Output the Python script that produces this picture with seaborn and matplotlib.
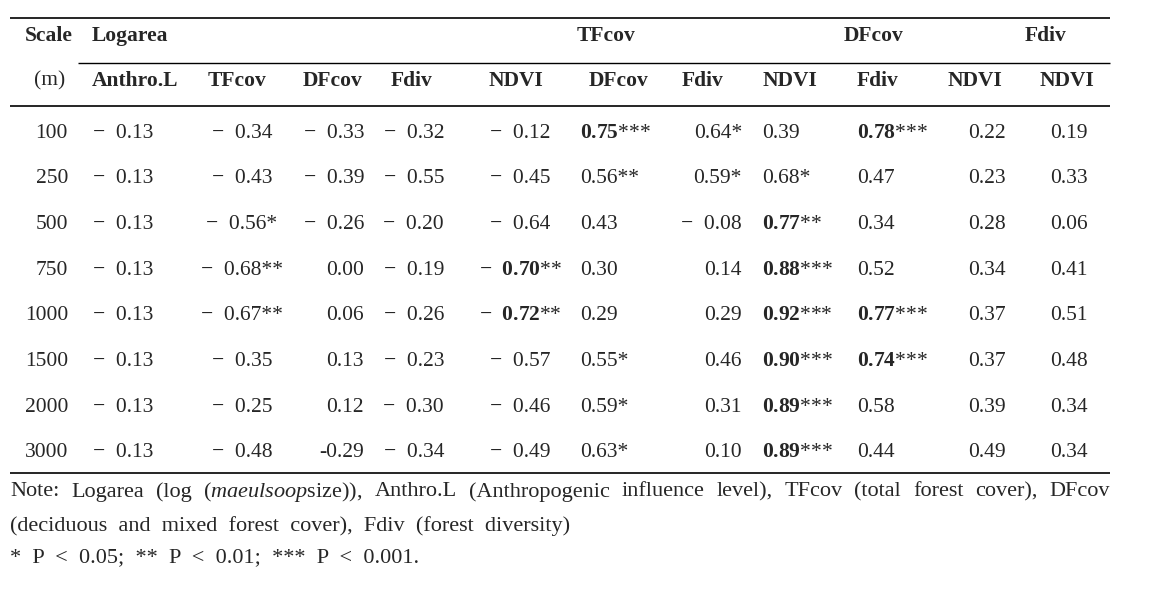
import matplotlib
matplotlib.use("Agg")
import matplotlib.pyplot as plt
import seaborn as sns

# table values (correlations with significance stars)
scales = ["100", "250", "500", "750", "1000", "1500", "2000", "3000"]

group_headers = ["Logarea", "TFcov", "DFcov", "Fdiv"]
sub_headers = ["Anthro.L", "TFcov", "DFcov", "Fdiv", "NDVI",
               "DFcov", "Fdiv", "NDVI", "Fdiv", "NDVI", "NDVI"]

logarea_anthro = ["− 0.13", "− 0.13", "− 0.13", "− 0.13", "− 0.13", "− 0.13", "− 0.13", "− 0.13"]
logarea_tfcov = ["− 0.34", "− 0.43", "− 0.56*", "− 0.68**", "− 0.67**", "− 0.35", "− 0.25", "− 0.48"]
logarea_dfcov = ["− 0.33", "− 0.39", "− 0.26", "0.00", "0.06", "0.13", "0.12", "-0.29"]
logarea_fdiv = ["− 0.32", "− 0.55", "− 0.20", "− 0.19", "− 0.26", "− 0.23", "− 0.30", "− 0.34"]
logarea_ndvi = ["− 0.12", "− 0.45", "− 0.64", "− 0.70**", "− 0.72**", "− 0.57", "− 0.46", "− 0.49"]
tfcov_dfcov = ["0.75***", "0.56**", "0.43", "0.30", "0.29", "0.55*", "0.59*", "0.63*"]
tfcov_fdiv = ["0.64*", "0.59*", "− 0.08", "0.14", "0.29", "0.46", "0.31", "0.10"]
tfcov_ndvi = ["0.39", "0.68*", "0.77**", "0.88***", "0.92***", "0.90***", "0.89***", "0.89***"]
dfcov_fdiv = ["0.78***", "0.47", "0.34", "0.52", "0.77***", "0.74***", "0.58", "0.44"]
dfcov_ndvi = ["0.22", "0.23", "0.28", "0.34", "0.37", "0.37", "0.39", "0.49"]
fdiv_ndvi = ["0.19", "0.33", "0.06", "0.41", "0.51", "0.48", "0.34", "0.34"]

columns = [logarea_anthro, logarea_tfcov, logarea_dfcov, logarea_fdiv, logarea_ndvi,
           tfcov_dfcov, tfcov_fdiv, tfcov_ndvi, dfcov_fdiv, dfcov_ndvi, fdiv_ndvi]

note_line1 = ("Note: Logarea (log ($\\mathit{maeulsoop}$size)), Anthro.L (Anthropogenic "
              "influence level), TFcov (total forest cover), DFcov")
note_line2 = "(deciduous  and  mixed  forest  cover),  Fdiv  (forest  diversity)"
note_line3 = "*  P  <  0.05;  **  P  <  0.01;  ***  P  <  0.001."

# layout (pixel units)
W, H = 1153, 595
FS = 15.5
NOTE_FS = 16
group_x = [92, 577, 844, 1025]
sub_x = [92, 237, 333, 412, 516, 619, 703, 790, 878, 975, 1067]
sub_ha = ["left"] + ["center"] * 10
cell_pos = [(93, "left"), (242, "center"), (364, "right"), (444, "right"), (520, "center"),
            (580, "left"), (742, "right"), (762, "left"), (857, "left"), (987, "center"),
            (1069, "center")]
row_y0, row_dy = 133, 45.7


def cell_text(s):
    stars = s.count("*")
    core = s.rstrip("*")
    value = float(core.replace("− ", "-"))
    sign = ""
    if core.startswith("− "):
        sign, core = "−  ", core[2:]
    if abs(value) >= 0.70:
        core = "$\\mathbf{" + core + "}$"
    return sign + core + "*" * stars


def place_justified(ax, text, x0, x1, y, **kw):
    renderer = ax.figure.canvas.get_renderer()
    words = text.split(" ")
    texts = [ax.text(0, y, w, ha="left", va="center", **kw) for w in words]
    widths = [t.get_window_extent(renderer).width for t in texts]
    gap = (x1 - x0 - sum(widths)) / (len(words) - 1)
    x = x0
    for t, w in zip(texts, widths):
        t.set_x(x)
        x += w + gap


sns.set_theme(style="white")
plt.rcParams["font.family"] = ["Liberation Serif", "DejaVu Serif"]
plt.rcParams["mathtext.fontset"] = "custom"
plt.rcParams["mathtext.rm"] = "Liberation Serif"
plt.rcParams["mathtext.it"] = "Liberation Serif:italic"
plt.rcParams["mathtext.bf"] = "Liberation Serif:bold"

fig = plt.figure(figsize=(W / 100, H / 100), dpi=100)
ax = fig.add_axes([0, 0, 1, 1])
ax.set_xlim(0, W)
ax.set_ylim(H, 0)
ax.axis("off")

# rules
ax.hlines([18, 106, 473], 10, 1110, color="black", linewidth=1.2)
ax.hlines(63, 78, 1110, color="black", linewidth=1.0)

# headers
ax.text(25, 36, "Scale", ha="left", va="center", fontsize=FS, fontweight="bold")
ax.text(50, 81, "(m)", ha="center", va="center", fontsize=FS)
for name, x in zip(group_headers, group_x):
    ax.text(x, 36, name, ha="left", va="center", fontsize=FS, fontweight="bold")
for name, x, ha in zip(sub_headers, sub_x, sub_ha):
    ax.text(x, 81, name, ha=ha, va="center", fontsize=FS, fontweight="bold")

# body
for i, s in enumerate(scales):
    y = row_y0 + i * row_dy
    ax.text(68, y, s, ha="right", va="center", fontsize=FS)
    for col, (x, ha) in zip(columns, cell_pos):
        ax.text(x, y, cell_text(col[i]), ha=ha, va="center", fontsize=FS)

# notes
place_justified(ax, note_line1, 10, 1110, 492, fontsize=NOTE_FS)
ax.text(10, 526, note_line2, ha="left", va="center", fontsize=NOTE_FS)
ax.text(10, 558, note_line3, ha="left", va="center", fontsize=NOTE_FS)

fig.savefig("out.png", dpi=100)
